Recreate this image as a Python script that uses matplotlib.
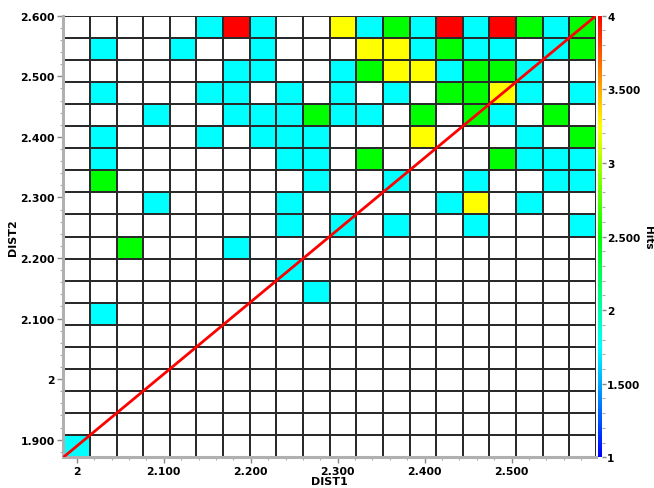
import numpy as np
import matplotlib
matplotlib.use("Agg")
import matplotlib.pyplot as plt
from matplotlib.colors import ListedColormap, BoundaryNorm, LinearSegmentedColormap, Normalize
from matplotlib.ticker import MultipleLocator, AutoMinorLocator, FuncFormatter
import matplotlib.cm as cm

# Bin ranges for the two distance variables
dist1_range = (1.9845, 2.597)
dist2_range = (1.871, 2.600)
n_bins = 20

# Hit counts per bin, rows listed from the top (highest DIST2) downward,
# columns from lowest to highest DIST1
hits_rows_top_down = [
    [0, 0, 0, 0, 0, 1, 4, 1, 0, 0, 3, 1, 2, 1, 4, 1, 4, 2, 1, 2],
    [0, 1, 0, 0, 1, 0, 0, 1, 0, 0, 0, 3, 3, 1, 2, 1, 1, 0, 1, 2],
    [0, 0, 0, 0, 0, 0, 1, 1, 0, 0, 1, 2, 3, 3, 1, 2, 2, 1, 0, 0],
    [0, 1, 0, 0, 0, 1, 1, 0, 1, 0, 1, 0, 1, 0, 2, 2, 3, 1, 0, 1],
    [0, 0, 0, 1, 0, 0, 1, 1, 1, 2, 1, 1, 0, 2, 0, 2, 1, 0, 2, 0],
    [0, 1, 0, 0, 0, 1, 0, 1, 1, 1, 0, 0, 0, 3, 0, 0, 0, 1, 0, 2],
    [0, 1, 0, 0, 0, 0, 0, 0, 1, 1, 0, 2, 0, 0, 0, 0, 2, 1, 1, 1],
    [0, 2, 0, 0, 0, 0, 0, 0, 0, 1, 0, 0, 1, 0, 0, 1, 0, 0, 1, 1],
    [0, 0, 0, 1, 0, 0, 0, 0, 1, 0, 0, 0, 0, 0, 1, 3, 0, 1, 0, 0],
    [0, 0, 0, 0, 0, 0, 0, 0, 1, 0, 1, 0, 1, 0, 0, 1, 0, 0, 0, 1],
    [0, 0, 2, 0, 0, 0, 1, 0, 0, 0, 0, 0, 0, 0, 0, 0, 0, 0, 0, 0],
    [0, 0, 0, 0, 0, 0, 0, 0, 1, 0, 0, 0, 0, 0, 0, 0, 0, 0, 0, 0],
    [0, 0, 0, 0, 0, 0, 0, 0, 0, 1, 0, 0, 0, 0, 0, 0, 0, 0, 0, 0],
    [0, 1, 0, 0, 0, 0, 0, 0, 0, 0, 0, 0, 0, 0, 0, 0, 0, 0, 0, 0],
    [0, 0, 0, 0, 0, 0, 0, 0, 0, 0, 0, 0, 0, 0, 0, 0, 0, 0, 0, 0],
    [0, 0, 0, 0, 0, 0, 0, 0, 0, 0, 0, 0, 0, 0, 0, 0, 0, 0, 0, 0],
    [0, 0, 0, 0, 0, 0, 0, 0, 0, 0, 0, 0, 0, 0, 0, 0, 0, 0, 0, 0],
    [0, 0, 0, 0, 0, 0, 0, 0, 0, 0, 0, 0, 0, 0, 0, 0, 0, 0, 0, 0],
    [0, 0, 0, 0, 0, 0, 0, 0, 0, 0, 0, 0, 0, 0, 0, 0, 0, 0, 0, 0],
    [1, 0, 0, 0, 0, 0, 0, 0, 0, 0, 0, 0, 0, 0, 0, 0, 0, 0, 0, 0],
]

hits_min, hits_max = 1, 4

hits = np.array(hits_rows_top_down)[::-1]  # bottom row first for pcolormesh
x_edges = np.linspace(dist1_range[0], dist1_range[1], n_bins + 1)
y_edges = np.linspace(dist2_range[0], dist2_range[1], n_bins + 1)

cell_cmap = ListedColormap(["white", "#00ffff", "#00ff00", "#ffff00", "#ff0000"])
cell_norm = BoundaryNorm([-0.5, 0.5, 1.5, 2.5, 3.5, 4.5], cell_cmap.N)

bar_cmap = LinearSegmentedColormap.from_list(
    "hits",
    [(0.0, "#0000ff"), (0.25, "#00ffff"), (0.5, "#00ff00"),
     (0.75, "#ffff00"), (1.0, "#ff0000")],
)


def fmt(v, _pos=None):
    if abs(v - round(v)) < 1e-9:
        return f"{int(round(v))}"
    return f"{v:.3f}"


plt.rcParams["font.family"] = ["DejaVu Sans"]
fig = plt.figure(figsize=(6.54, 4.89), dpi=100)
ax = fig.add_axes([0.0968, 0.0628, 0.8145, 0.903])

ax.pcolormesh(x_edges, y_edges, hits, cmap=cell_cmap, norm=cell_norm,
              edgecolors="#2a2a2a", linewidth=1.3, zorder=1)

# Diagonal reference line across the plotting region
ax.plot([dist1_range[0], dist1_range[1]], [dist2_range[0], dist2_range[1]],
        color="#ff0000", linewidth=2.0, zorder=3, solid_capstyle="butt")

ax.set_xlim(*dist1_range)
ax.set_ylim(*dist2_range)

ax.xaxis.set_major_locator(MultipleLocator(0.1))
ax.yaxis.set_major_locator(MultipleLocator(0.1))
ax.xaxis.set_minor_locator(AutoMinorLocator(5))
ax.yaxis.set_minor_locator(AutoMinorLocator(5))
ax.xaxis.set_major_formatter(FuncFormatter(fmt))
ax.yaxis.set_major_formatter(FuncFormatter(fmt))

ax.tick_params(axis="both", which="major", length=4, width=1, color="#888888",
               labelsize=7.8, pad=2)
ax.tick_params(axis="both", which="minor", length=2, width=0.8, color="#aaaaaa")
for lbl in ax.get_xticklabels() + ax.get_yticklabels():
    lbl.set_fontweight("bold")

for side in ("top", "right"):
    ax.spines[side].set_visible(False)
for side in ("left", "bottom"):
    ax.spines[side].set_color("#b0b0b0")
    ax.spines[side].set_linewidth(2.2)

ax.set_xlabel("DIST1", fontsize=8, fontweight="bold", labelpad=0)
ax.set_ylabel("DIST2", fontsize=8, fontweight="bold", labelpad=2)

cax = fig.add_axes([0.9144, 0.0628, 0.0055, 0.903])
sm = cm.ScalarMappable(norm=Normalize(hits_min, hits_max), cmap=bar_cmap)
cb = fig.colorbar(sm, cax=cax)
cb.outline.set_visible(False)
cb.set_ticks(np.arange(hits_min, hits_max + 0.01, 0.5))
cb.ax.yaxis.set_major_formatter(FuncFormatter(fmt))
cb.ax.yaxis.set_minor_locator(AutoMinorLocator(5))
cb.ax.tick_params(which="major", length=3, width=1, color="#888888",
                  labelsize=7.6, pad=1)
cb.ax.tick_params(which="minor", length=2, width=0.8, color="#aaaaaa")
for lbl in cb.ax.get_yticklabels():
    lbl.set_fontweight("bold")

# Colour bar title placed in the narrow margin at the right edge
fig.text(647.5 / 654, 0.0628 + 0.903 / 2, "Hits", fontsize=7.6, fontweight="bold",
         rotation=270, ha="center", va="center")

fig.savefig("out.png", dpi=100)
